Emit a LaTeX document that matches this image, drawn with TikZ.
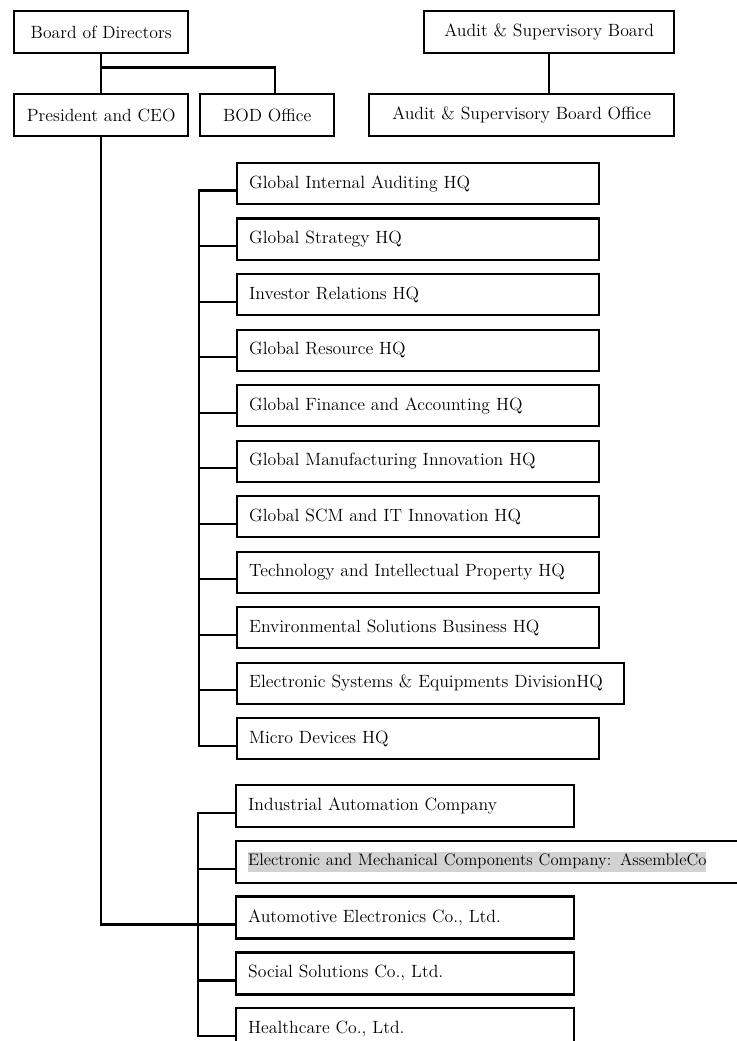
\documentclass[tikz,border=0pt]{standalone}
\usepackage{tikz}
\usetikzlibrary{calc}

\definecolor{hlgray}{RGB}{210,210,210}

\tikzset{
  orgbox/.style={draw, line width=1.8pt, rectangle, anchor=north west, inner sep=0pt,
    font=\fontsize{13.3}{16}\selectfont},
  topbox/.style={orgbox, minimum height=31.5pt, minimum width=#1},
  unitbox/.style={orgbox, inner xsep=9pt, align=left, text width=#1, minimum height=30.75pt},
  cobox/.style={orgbox, inner xsep=9pt, align=left, text width=#1, minimum height=31.5pt},
  link/.style={line width=1.8pt, line cap=rect}
}

\begin{document}
\begin{tikzpicture}[x=0.75pt, y=-0.75pt]

\useasboundingbox (0,0) rectangle (737,1041);
\clip (0,0) rectangle (737,1041);

% Boards and offices
\node[topbox=130.5pt] (bod) at (13,10) {Board of Directors};
\node[topbox=130.5pt] (ceo) at (13,93) {President and CEO};
\node[topbox=100.5pt] (bodoff) at (199,93) {BOD Office};
\node[topbox=187.5pt] (asb) at (423,10) {Audit \& Supervisory Board};
\node[topbox=228.75pt] (asboff) at (368,93) {Audit \& Supervisory Board Office};

\draw[link] (bod.south) -- (ceo.north);
\coordinate (j1) at ($(bod.south)!0.34!(ceo.north)$);
\draw[link] (j1) -| ([xshift=6pt]bodoff.north);
\draw[link] (asb.south) -- (asb.south |- asboff.north);

% Headquarters
\coordinate (hqbus) at (199,0);
\foreach \i/\bw/\txt in {0/253.5pt/Global Internal Auditing HQ,
    1/253.5pt/Global Strategy HQ,
    2/253.5pt/Investor Relations HQ,
    3/253.5pt/Global Resource HQ,
    4/253.5pt/Global Finance and Accounting HQ,
    5/253.5pt/Global Manufacturing Innovation HQ,
    6/253.5pt/Global SCM and IT Innovation HQ,
    7/253.5pt/Technology and Intellectual Property HQ,
    8/253.5pt/Environmental Solutions Business HQ,
    9/272.25pt/Electronic Systems \& Equipments DivisionHQ,
    10/253.5pt/Micro Devices HQ} {
  \node[unitbox=\bw] (hq\i) at (236,{162+55.5*\i}) {\txt};
  \draw[link] ([yshift=-5.25pt]hq\i.west) -- ([yshift=-5.25pt]hq\i.west -| hqbus);
}
\draw[link] ([yshift=-5.25pt]hq0.west -| hqbus) -- ([yshift=-5.25pt]hq10.west -| hqbus);

% Companies
\coordinate (cobus) at (198,0);
\foreach \i/\bw/\txt in {0/235.5pt/Industrial Automation Company,
    1/402pt/{{\fontsize{12.5}{15}\selectfont\setlength{\fboxsep}{0pt}\colorbox{hlgray}{\strut Electronic and Mechanical Components Company: AssembleCo}}},
    2/235.5pt/{Automotive Electronics Co., Ltd.},
    3/235.5pt/{Social Solutions Co., Ltd.},
    4/235.5pt/{Healthcare Co., Ltd.}} {
  \node[cobox=\bw] (co\i) at (235,{784+55.7*\i}) {\txt};
  \draw[link] ([yshift=-5.25pt]co\i.west) -- ([yshift=-5.25pt]co\i.west -| cobus);
}
\draw[link] ([yshift=-5.25pt]co0.west -| cobus) -- ([yshift=-5.25pt]co4.west -| cobus);

% CEO line
\draw[link] (ceo.south) |- ([yshift=-5.25pt]co2.west);

\end{tikzpicture}
\end{document}
